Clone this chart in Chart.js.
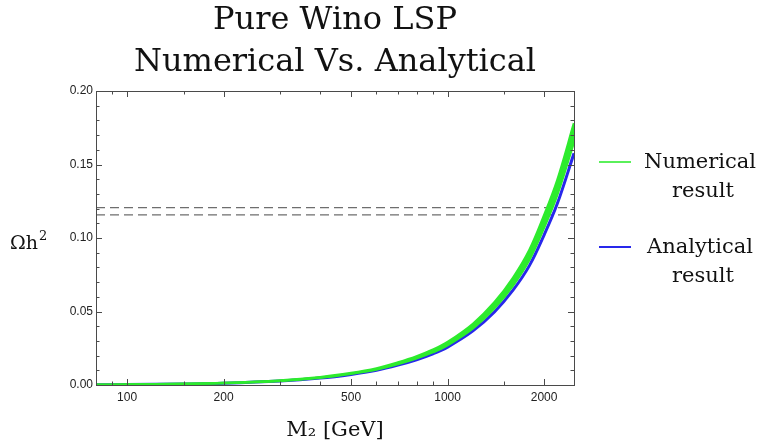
<!DOCTYPE html>
<html>
<head>
<meta charset="utf-8">
<script src="https://cdn.jsdelivr.net/npm/chart.js@4.4.0/dist/chart.umd.min.js"></script>
<style>
    html, body { margin: 0; padding: 0; background: #fff; }
</style>
</head>
<body>
<canvas id="relicDensityGraph" width="761" height="448"></canvas>
<script>
// wino mass in GeV and relic density
var massValues = [80, 100, 150, 200, 300, 400, 500, 600, 700, 800, 900, 1000, 1200, 1400, 1600, 1800, 2000, 2200, 2480];
var numericalUpper = [0.0002, 0.0003, 0.0008, 0.0014, 0.0031, 0.0053, 0.0081, 0.0113, 0.0153, 0.0194, 0.0240, 0.0292, 0.0416, 0.0562, 0.0729, 0.0918, 0.1153, 0.1394, 0.1781];
var numericalLower = [0.0002, 0.0003, 0.0007, 0.0013, 0.0028, 0.0049, 0.0076, 0.0105, 0.0142, 0.0181, 0.0223, 0.0271, 0.0386, 0.0522, 0.0677, 0.0853, 0.1071, 0.1296, 0.1655];
var analyticalValues = [0.0002, 0.0003, 0.0007, 0.0012, 0.0027, 0.0047, 0.0072, 0.0100, 0.0135, 0.0172, 0.0212, 0.0258, 0.0368, 0.0497, 0.0645, 0.0812, 0.1020, 0.1234, 0.1576];
var relicBand = [0.1157, 0.1206];

var xTickLabels = [100, 200, 500, 1000, 2000];
var xMinorTicks = [90, 150, 300, 400, 600, 700, 800, 900, 1500];
var yTickLabels = [0.00, 0.05, 0.10, 0.15, 0.20];
var yMinorTicks = [0.01, 0.02, 0.03, 0.04, 0.06, 0.07, 0.08, 0.09, 0.11, 0.12, 0.13, 0.14, 0.16, 0.17, 0.18, 0.19];

var titleLines = ["Pure Wino LSP", "Numerical Vs. Analytical"];
var legendEntries = [
    { lines: ["Numerical", "result"], color: "rgb(90,240,90)" },
    { lines: ["Analytical", "result"], color: "rgb(40,40,235)" },
];

var greenBand = "rgb(45,235,45)";
var blueLine = "rgb(40,40,235)";
var serifFont = "'DejaVu Serif', serif";

function to_points(values) {
    var points = [];
    for (var i = 0; i < massValues.length; i++) {
        points.push({ x: massValues[i], y: values[i] });
    }
    return points;
}

function relic_line(value) {
    return {
        data: [{ x: massValues[0], y: value }, { x: massValues[massValues.length - 1], y: value }],
        borderColor: "#6e6e6e",
        borderWidth: 1.2,
        borderDash: [9, 5],
        pointRadius: 0,
        fill: false,
        tension: 0,
    };
}

// frame, inward ticks, labels, titles and legend in the Mathematica style
var decorPlugin = {
    id: "decor",
    afterDraw: function (chart) {
        var ctx = chart.ctx;
        var area = chart.chartArea;
        var xScale = chart.scales.x;
        var yScale = chart.scales.y;
        ctx.save();

        ctx.strokeStyle = "#4a4a4a";
        ctx.lineWidth = 1;
        ctx.strokeRect(area.left + 0.5, area.top + 0.5, area.right - area.left, area.bottom - area.top);

        ctx.beginPath();
        for (var v of xTickLabels) {
            var px = Math.round(xScale.getPixelForValue(v)) + 0.5;
            ctx.moveTo(px, area.bottom); ctx.lineTo(px, area.bottom - 6);
            ctx.moveTo(px, area.top); ctx.lineTo(px, area.top + 6);
        }
        for (var v of xMinorTicks) {
            var px = Math.round(xScale.getPixelForValue(v)) + 0.5;
            ctx.moveTo(px, area.bottom); ctx.lineTo(px, area.bottom - 3.5);
            ctx.moveTo(px, area.top); ctx.lineTo(px, area.top + 3.5);
        }
        for (var v of yTickLabels) {
            var py = Math.round(yScale.getPixelForValue(v)) + 0.5;
            ctx.moveTo(area.left, py); ctx.lineTo(area.left + 6, py);
            ctx.moveTo(area.right, py); ctx.lineTo(area.right - 6, py);
        }
        for (var v of yMinorTicks) {
            var py = Math.round(yScale.getPixelForValue(v)) + 0.5;
            ctx.moveTo(area.left, py); ctx.lineTo(area.left + 3.5, py);
            ctx.moveTo(area.right, py); ctx.lineTo(area.right - 3.5, py);
        }
        ctx.stroke();

        ctx.fillStyle = "#222";
        ctx.font = "12px 'Liberation Sans', Arial, sans-serif";
        ctx.textAlign = "center";
        ctx.textBaseline = "middle";
        for (var v of xTickLabels) {
            ctx.fillText(String(v), xScale.getPixelForValue(v), area.bottom + 13);
        }
        ctx.textAlign = "right";
        for (var v of yTickLabels) {
            ctx.fillText(v.toFixed(2), area.left - 3, yScale.getPixelForValue(v));
        }

        ctx.fillStyle = "#111";
        ctx.textBaseline = "alphabetic";
        var midX = (area.left + area.right) / 2;

        ctx.textAlign = "center";
        ctx.font = "32px " + serifFont;
        ctx.fillText(titleLines[0], midX, 29);
        ctx.fillText(titleLines[1], midX, 71);

        ctx.font = "21px " + serifFont;
        ctx.fillText("M\u2082 [GeV]", midX, 436);

        ctx.textAlign = "left";
        ctx.font = "19px " + serifFont;
        ctx.fillText("\u03A9h", 10, 249);
        var wOmega = ctx.measureText("\u03A9h").width;
        ctx.font = "13px " + serifFont;
        ctx.fillText("2", 10 + wOmega + 1, 240);

        var legendTop = [168, 253];
        for (var i = 0; i < legendEntries.length; i++) {
            var entry = legendEntries[i];
            var base = legendTop[i];
            ctx.strokeStyle = entry.color;
            ctx.lineWidth = 2;
            ctx.beginPath();
            ctx.moveTo(599, base - 6);
            ctx.lineTo(631, base - 6);
            ctx.stroke();
            ctx.textAlign = "center";
            ctx.font = "21px " + serifFont;
            ctx.fillText(entry.lines[0], 700, base);
            ctx.fillText(entry.lines[1], 703, base + 29);
        }
        ctx.restore();
    },
};

var relicGraph = new Chart("relicDensityGraph", {
    type: "line",
    data: {
        datasets: [
            {
                data: to_points(numericalUpper),
                borderColor: greenBand,
                backgroundColor: greenBand,
                borderWidth: 2.5,
                pointRadius: 0,
                fill: "+1",
                tension: 0.35,
            },
            {
                data: to_points(numericalLower),
                borderColor: greenBand,
                borderWidth: 2.5,
                pointRadius: 0,
                fill: false,
                tension: 0.35,
            },
            {
                data: to_points(analyticalValues),
                borderColor: blueLine,
                borderWidth: 3,
                pointRadius: 0,
                fill: false,
                tension: 0.35,
            },
            relic_line(relicBand[1]),
            relic_line(relicBand[0]),
        ],
    },
    options: {
        responsive: false,
        animation: false,
        layout: { padding: { left: 96, right: 187, top: 91, bottom: 63 } },
        plugins: {
            legend: { display: false },
            tooltip: { enabled: false },
            title: { display: false },
        },
        scales: {
            x: { type: "logarithmic", min: 80, max: 2480, display: false },
            y: { type: "linear", min: 0, max: 0.2, display: false },
        },
    },
    plugins: [decorPlugin],
});
</script>
</body>
</html>
